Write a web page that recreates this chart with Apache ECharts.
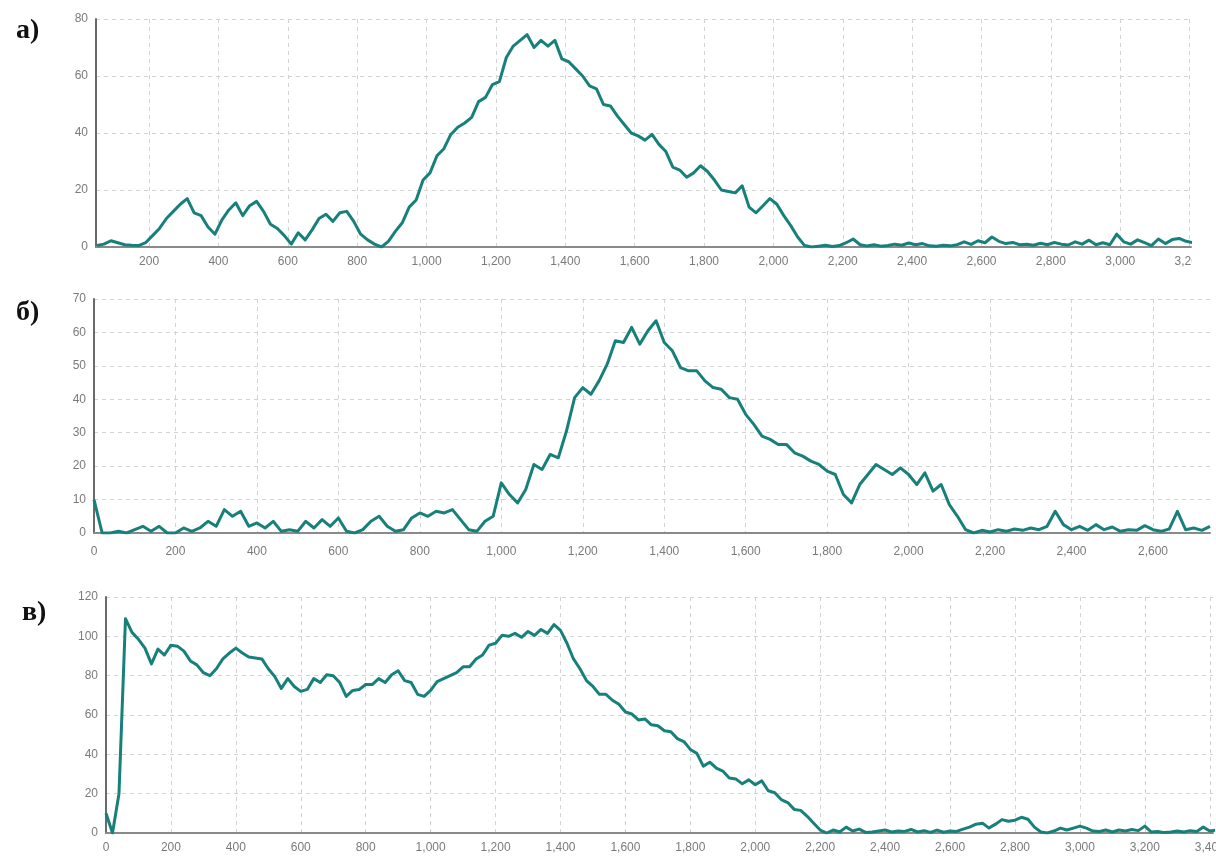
<!DOCTYPE html>
<html>
<head>
<meta charset="utf-8">
<script src="https://cdn.jsdelivr.net/npm/echarts@6/dist/echarts.min.js"></script>
<style>
  html, body { margin: 0; padding: 0; background: #fff; }
  body { width: 1216px; height: 856px; position: relative; overflow: hidden; }
  .panel { position: absolute; left: 0; overflow: hidden; }
  #pa { top: 0; width: 1192px; height: 280px; }
  #pb { top: 280px; width: 1216px; height: 290px; }
  #pc { top: 570px; width: 1216px; height: 286px; }
</style>
</head>
<body>
<div id="pa" class="panel"></div>
<div id="pb" class="panel"></div>
<div id="pc" class="panel"></div>
<script>
// Panel а): samples every 20 steps, starting at step 50
const startA = 50, stepA = 20;
const valuesA = [
  0.5, 1, 2.2, 1.5, 0.8, 0.6, 0.5, 1.5, 4, 6.5,
  10, 12.5, 15, 17, 12, 11, 7, 4.5, 9.5, 13,
  15.5, 11, 14.5, 16, 12.5, 8, 6.5, 4, 1, 5,
  2.5, 6, 10, 11.5, 9, 12, 12.5, 9, 4.5, 2.5,
  1, 0, 2, 5.5, 8.5, 14, 16.5, 23.5, 26, 32,
  34.5, 39.5, 42, 43.5, 45.5, 51, 52.5, 57, 58, 66.5,
  70.5, 72.5, 74.5, 70, 72.5, 70.5, 72.5, 66, 65, 62.5,
  60, 56.5, 55.5, 50, 49.5, 46, 43, 40, 39, 37.5,
  39.5, 36, 33.5, 28, 27, 24.5, 26, 28.5, 26.5, 23.5,
  20, 19.5, 19, 21.5, 14, 12, 14.5, 17, 15, 11,
  7.5, 3.5, 0.5, 0, 0.3, 0.6, 0.2, 0.5, 1.5, 2.8,
  0.8, 0.4, 0.8, 0.3, 0.5, 1, 0.6, 1.4, 0.8, 1.2,
  0.4, 0.3, 0.6, 0.4, 0.8, 1.8, 0.9, 2.2, 1.5, 3.5,
  2, 1.2, 1.6, 0.8, 1, 0.6, 1.3, 0.8, 1.6, 1,
  0.7, 1.8, 1, 2.4, 0.8, 1.5, 0.8, 4.5, 1.8, 1,
  2.5, 1.5, 0.5, 2.8, 1.2, 2.6, 3, 2, 1.5
];

// Panel б): samples every 20 steps from 0
const startB = 0, stepB = 20;
const valuesB = [
  10, 0, 0, 0.5, 0, 1, 2, 0.5, 2, 0,
  0, 1.5, 0.5, 1.5, 3.5, 2, 7, 5, 6.5, 2,
  3, 1.5, 3.5, 0.5, 1, 0.5, 3.5, 1.5, 4, 2,
  4.5, 0.5, 0, 1, 3.5, 5, 2, 0.5, 1, 4.5,
  6, 5, 6.5, 6, 7, 4, 1, 0.5, 3.5, 5,
  15, 11.5, 9, 13, 20.5, 19, 23.5, 22.5, 30.5, 40.5,
  43.5, 41.5, 45.5, 50.5, 57.5, 57, 61.5, 56.5, 60.5, 63.5,
  57, 54.5, 49.5, 48.5, 48.5, 45.5, 43.5, 43, 40.5, 40,
  35.5, 32.5, 29, 28, 26.5, 26.5, 24, 23, 21.5, 20.5,
  18.5, 17.5, 11.5, 9, 14.5, 17.5, 20.5, 19, 17.5, 19.5,
  17.5, 14.5, 18, 12.5, 14.5, 8.5, 5, 1, 0, 0.8,
  0.3, 1, 0.5, 1.2, 0.8, 1.5, 1, 2, 6.5, 2.5,
  1, 2, 0.8, 2.5, 1, 1.8, 0.5, 1, 0.8, 2.2,
  1, 0.5, 1.2, 6.5, 1, 1.5, 0.8, 2
];

// Panel в): samples every 20 steps from 0
const startC = 0, stepC = 20;
const valuesC = [
  10, 0, 20, 109, 102, 98.5, 94, 86, 93.5, 90.5,
  95.5, 95, 92.5, 87.5, 85.5, 81.5, 80, 83.5, 88.5, 91.5,
  94, 91.5, 89.5, 89, 88.5, 83.5, 79.5, 73.5, 78.5, 74.5,
  72, 73, 78.5, 76.5, 80.5, 80, 76.5, 69.5, 72.5, 73,
  75.5, 75.5, 78.5, 76.5, 80.5, 82.5, 77.5, 76.5, 70.5, 69.5,
  72.5, 77, 78.5, 80, 81.5, 84.5, 84.5, 88.5, 90.5, 95.5,
  96.5, 100.5, 100, 101.5, 99.5, 102.5, 100.5, 103.5, 101.5, 106,
  103, 96.5, 88.5, 83.5, 77.5, 74.5, 70.5, 70.5, 67.5, 65.5,
  61.5, 60.5, 57.5, 58, 55, 54.5, 52, 51.5, 48, 46.5,
  42.5, 40.5, 34, 36, 33, 31.5, 28, 27.5, 25, 27,
  24.5, 26.5, 21.5, 20.5, 17, 15.5, 12, 11.5, 8.5, 5,
  1.5, 0, 1.5, 0.5, 3, 1, 2, 0.3, 0.5, 1,
  1.5, 0.5, 1, 0.8, 1.8, 0.5, 1.2, 0.3, 1.5, 0.4,
  1, 0.8, 2, 3, 4.5, 5, 2.5, 4.5, 6.8, 6,
  6.5, 8, 7, 3, 0.5, 0, 1, 2.5, 1.5, 2.5,
  3.5, 2.5, 1, 0.8, 1.5, 0.5, 1.5, 1, 1.8, 1.2,
  3.5, 0.5, 0.8, 0.2, 0.5, 1, 0.5, 1.2, 0.8, 3,
  1, 1.5
];

// Tick labels of the horizontal axes
const xTicksA = [200, 400, 600, 800, 1000, 1200, 1400, 1600, 1800, 2000, 2200, 2400, 2600, 2800, 3000, 3200];
const xTicksB = [0, 200, 400, 600, 800, 1000, 1200, 1400, 1600, 1800, 2000, 2200, 2400, 2600];
const xTicksC = [0, 200, 400, 600, 800, 1000, 1200, 1400, 1600, 1800, 2000, 2200, 2400, 2600, 2800, 3000, 3200, 3400];

const panelLabels = ['а)', 'б)', 'в)'];

const LINE_COLOR = '#17807a';
const LABEL_COLOR = '#7a7a7a';
const GRID_COLOR = '#d2d2d2';

function toPairs(start, step, values) {
  return values.map((v, i) => [start + i * step, v]);
}

function fmt(v) {
  return Number(v).toLocaleString('en-US');
}

function buildOption(cfg) {
  return {
    animation: false,
    title: {
      text: cfg.label,
      left: cfg.labelLeft,
      top: cfg.labelTop,
      textStyle: {
        fontFamily: 'Liberation Serif',
        fontWeight: 'bold',
        fontSize: 28,
        color: '#111'
      }
    },
    grid: Object.assign({ outerBoundsMode: 'none', containLabel: false }, cfg.grid),
    xAxis: {
      type: 'value',
      min: cfg.xMin,
      max: cfg.xMax,
      axisLine: { show: true, onZero: false, lineStyle: { color: '#8a8a8a', width: 2 } },
      axisTick: { show: false, customValues: cfg.xTicks },
      axisLabel: {
        customValues: cfg.xTicks,
        formatter: fmt,
        color: LABEL_COLOR,
        fontFamily: 'Liberation Sans',
        fontSize: 12,
        margin: cfg.xLabelMargin,
        hideOverlap: false
      },
      splitLine: { show: true, lineStyle: { color: GRID_COLOR, type: [4, 4], width: 1 } }
    },
    yAxis: {
      type: 'value',
      min: 0,
      max: cfg.yMax,
      interval: cfg.yStep,
      axisLine: { show: true, lineStyle: { color: '#6a6a6a', width: 2 } },
      axisTick: { show: false },
      axisLabel: {
        color: LABEL_COLOR,
        fontFamily: 'Liberation Sans',
        fontSize: 12,
        margin: 8
      },
      splitLine: { show: true, lineStyle: { color: GRID_COLOR, type: [4, 4], width: 1 } }
    },
    series: [{
      type: 'line',
      data: cfg.data,
      showSymbol: false,
      symbol: 'none',
      sampling: false,
      clip: true,
      lineStyle: { color: LINE_COLOR, width: 3, join: 'round' },
      z: 5
    }]
  };
}

const panels = [
  {
    el: 'pa', label: panelLabels[0], labelLeft: 11, labelTop: 12,
    grid: { left: 96, top: 19, right: 1, bottom: 33 },
    xMin: 47, xMax: 3204, xTicks: xTicksA, xLabelMargin: 9,
    yMax: 80, yStep: 20,
    data: toPairs(startA, stepA, valuesA)
  },
  {
    el: 'pb', label: panelLabels[1], labelLeft: 11, labelTop: 14,
    grid: { left: 94, top: 19, right: 6, bottom: 37 },
    xMin: 0, xMax: 2740, xTicks: xTicksB, xLabelMargin: 13,
    yMax: 70, yStep: 10,
    data: toPairs(startB, stepB, valuesB)
  },
  {
    el: 'pc', label: panelLabels[2], labelLeft: 17, labelTop: 24,
    grid: { left: 106, top: 27, right: 3, bottom: 23 },
    xMin: 0, xMax: 3410, xTicks: xTicksC, xLabelMargin: 9,
    yMax: 120, yStep: 20,
    data: toPairs(startC, stepC, valuesC)
  }
];

panels.forEach(p => {
  const chart = echarts.init(document.getElementById(p.el), null, { renderer: 'canvas' });
  chart.setOption(buildOption(p));
});
</script>
</body>
</html>
